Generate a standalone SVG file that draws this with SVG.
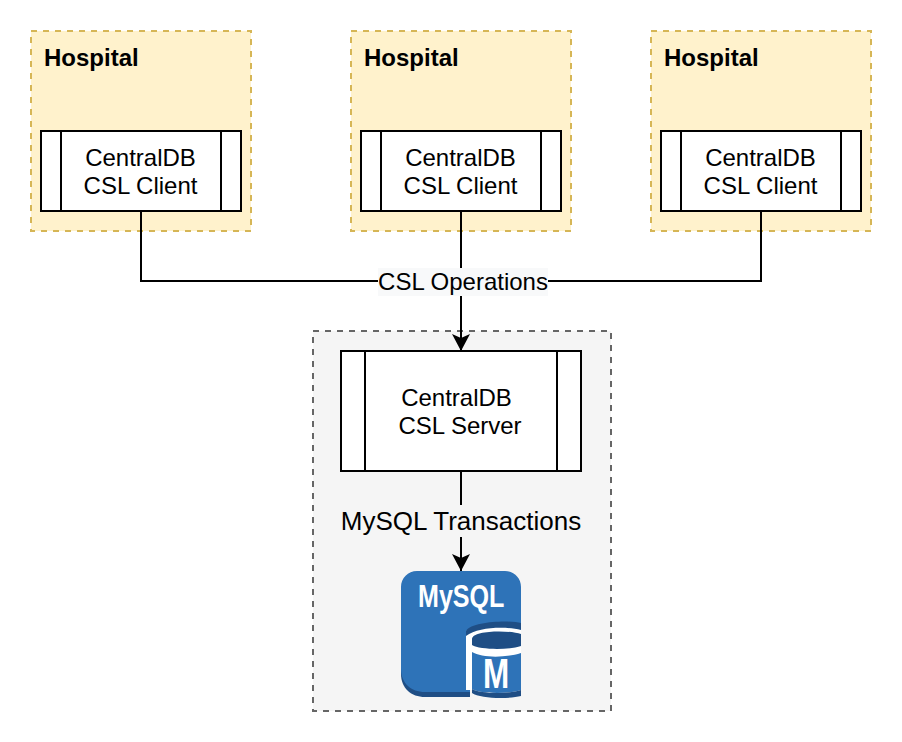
<svg xmlns="http://www.w3.org/2000/svg" width="902" height="742" viewBox="0 0 902 742">
<style>
text{font-family:"Liberation Sans",Arial,sans-serif;fill:#000}
.hosp{fill:#fff2cc;stroke:#d6b656;stroke-width:2;stroke-dasharray:6 6}
.srv{fill:#f5f5f5;stroke:#666;stroke-width:2;stroke-dasharray:6 6}
.box{fill:#fff;stroke:#000;stroke-width:2}
.ln{fill:none;stroke:#000;stroke-width:2}
.t{font-size:24px;text-anchor:middle}
.h{font-size:24px;font-weight:700}
.icon{font-weight:700;fill:#fff}
</style>
<defs>
<marker id="arr" markerUnits="userSpaceOnUse" markerWidth="18" markerHeight="18" refX="17" refY="9" orient="auto" viewBox="0 0 18 18"><path d="M0 0 L17 9 L0 18 L4 9Z" fill="#000"/></marker>
</defs>
<g id="hospital-1"><rect class="hosp" x="31" y="31" width="220" height="200"/><text class="h" x="44" y="66">Hospital</text></g>
<g id="hospital-2"><rect class="hosp" x="351" y="31" width="220" height="200"/><text class="h" x="364" y="66">Hospital</text></g>
<g id="hospital-3"><rect class="hosp" x="651" y="31" width="220" height="200"/><text class="h" x="664" y="66">Hospital</text></g>
<g id="server-group"><rect class="srv" x="313" y="331" width="298" height="380"/></g>
<g id="connectors">
<path class="ln" d="M141 211V281H461"/>
<path class="ln" d="M761 211V281H461"/>
<path class="ln" d="M461 211V351" marker-end="url(#arr)"/>
<path class="ln" d="M461 471V571" marker-end="url(#arr)"/>
<rect x="378" y="268" width="170" height="28" fill="#f8f9fa"/>
<rect x="340" y="505" width="242" height="32" fill="#f5f5f5"/>
<text class="t" x="463" y="290">CSL Operations</text>
<text x="461" y="530" font-size="26" text-anchor="middle">MySQL Transactions</text>
</g>
<g id="client-1"><rect class="box" x="41" y="131" width="200" height="80"/><path class="ln" d="M61 131V211M221 131V211"/><text class="t" x="140.500" y="166">CentralDB</text><text class="t" x="140.500" y="194">CSL Client</text></g>
<g id="client-2"><rect class="box" x="361" y="131" width="200" height="80"/><path class="ln" d="M381 131V211M541 131V211"/><text class="t" x="460.500" y="166">CentralDB</text><text class="t" x="460.500" y="194">CSL Client</text></g>
<g id="client-3"><rect class="box" x="661" y="131" width="200" height="80"/><path class="ln" d="M681 131V211M841 131V211"/><text class="t" x="760.500" y="166">CentralDB</text><text class="t" x="760.500" y="194">CSL Client</text></g>
<g id="server"><rect class="box" x="341" y="351" width="240" height="120"/><path class="ln" d="M365 351V471M557 351V471"/><text class="t" x="456.500" y="406">CentralDB</text><text class="t" x="460" y="434">CSL Server</text></g>
<g id="mysql">
<path d="M401 660V674C401 688 411 697 425 697H470V660Z" fill="#1f4e85"/>
<path d="M417 571H505C514 571 521 578 521 587V660H470V692H425C411 692 401 683 401 669V587C401 578 408 571 417 571Z" fill="#2e73b8"/>
<path d="M466 631C476 626 510 626 521 628V690H466Z" fill="#fff"/>
<path d="M466 631C472 621 510 620 521 623V630C505 626 478 627 466 636Z" fill="#1f4e85"/>
<path d="M472 639C472 630 510 630 521 634V646C510 650 480 650 472 645Z" fill="#1f4e85"/>
<path d="M472 652C482 658 505 658 521 653V690C510 694 480 694 472 689Z" fill="#2e73b8"/>
<path d="M472 689C480 694 510 694 521 690V696C510 699 480 699 472 693Z" fill="#1f4e85"/>
<text class="icon" x="0" y="0" font-size="31" transform="translate(418 607) scale(0.81 1)">MySQL</text>
<text class="icon" x="0" y="0" font-size="42" text-anchor="middle" transform="translate(496 688) scale(0.75 1)">M</text>
</g>
</svg>
